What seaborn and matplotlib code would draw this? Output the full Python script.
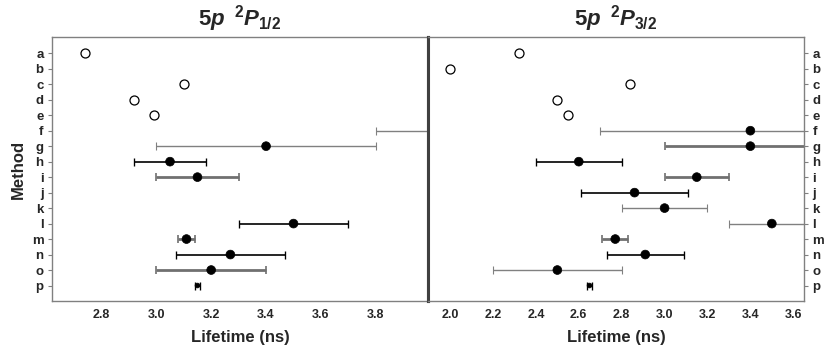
import matplotlib
matplotlib.use("Agg")
import matplotlib.pyplot as plt
import seaborn as sns
import numpy as np
import pandas as pd

sns.set_theme(style="white")
plt.rcParams['font.family'] = ['Liberation Sans', 'DejaVu Sans']
plt.rcParams['font.weight'] = 'bold'
plt.rcParams['mathtext.fontset'] = 'custom'
plt.rcParams['mathtext.rm'] = 'Liberation Sans:bold'
plt.rcParams['mathtext.it'] = 'Liberation Sans:bold:italic'
plt.rcParams['mathtext.bf'] = 'Liberation Sans:bold'

methods = list("abcdefghijklmnop")

# Left panel: 5p 2P1/2
theory_left_methods = ["a", "c", "d", "e"]
theory_left_vals = [2.74, 3.10, 2.92, 2.99]
exp_left_methods = ["f", "g", "h", "i", "l", "m", "n", "o", "p"]
exp_left_vals = [4.40, 3.40, 3.05, 3.15, 3.50, 3.11, 3.27, 3.20, 3.15]
exp_left_errs = [0.60, 0.40, 0.13, 0.15, 0.20, 0.03, 0.20, 0.20, 0.01]
exp_left_style = ["thin", "thin", "black", "thick", "black", "thick", "black", "thick", "black"]

# Right panel: 5p 2P3/2
theory_right_methods = ["a", "b", "c", "d", "e"]
theory_right_vals = [2.32, 2.00, 2.84, 2.50, 2.55]
exp_right_methods = ["f", "g", "h", "i", "j", "k", "l", "m", "n", "o", "p"]
exp_right_vals = [3.40, 3.40, 2.60, 3.15, 2.86, 3.00, 3.50, 2.77, 2.91, 2.50, 2.65]
exp_right_errs = [0.70, 0.40, 0.20, 0.15, 0.25, 0.20, 0.20, 0.06, 0.18, 0.30, 0.01]
exp_right_style = ["thin", "thick", "black", "thick", "black", "thin", "thin", "thick", "black", "thin", "black"]

left_ticks = [2.8, 3.0, 3.2, 3.4, 3.6, 3.8]
right_ticks = [2.0, 2.2, 2.4, 2.6, 2.8, 3.0, 3.2, 3.4, 3.6]

styles = {
    "thin": dict(color="#808080", lw=1.0),
    "thick": dict(color="#707070", lw=2.0),
    "black": dict(color="black", lw=1.2),
}

fig = plt.figure(figsize=(8.31, 3.58), dpi=100)
axL = fig.add_axes([52/831, 57/358, 376/831, 264/358])
axR = fig.add_axes([428/831, 57/358, 376/831, 264/358])

ypos = {m: i for i, m in enumerate(methods)}


def draw(ax, tm, tv, em, ev, ee, es):
    for m, v, e, s in zip(em, ev, ee, es):
        st = styles[s]
        ax.errorbar([v], [ypos[m]], xerr=[e], fmt="none", ecolor=st["color"],
                    elinewidth=st["lw"], capsize=3, capthick=st["lw"] * 0.8 if s != "thick" else 1.2, zorder=2)
    dft = pd.DataFrame({"x": tv, "y": [ypos[m] for m in tm]})
    sns.scatterplot(data=dft, x="x", y="y", ax=ax, marker="o", s=42,
                    facecolor="white", edgecolor="black", linewidth=0.9, zorder=3)
    sizes = [12 if e <= 0.01 else 40 for e in ee]
    dfe = pd.DataFrame({"x": ev, "y": [ypos[m] for m in em], "s": sizes})
    sns.scatterplot(data=dfe, x="x", y="y", ax=ax, color="black", size="s",
                    sizes=(12, 40), legend=False, edgecolor="black", linewidth=0.5, zorder=4)


draw(axL, theory_left_methods, theory_left_vals, exp_left_methods, exp_left_vals, exp_left_errs, exp_left_style)
draw(axR, theory_right_methods, theory_right_vals, exp_right_methods, exp_right_vals, exp_right_errs, exp_right_style)

for ax in (axL, axR):
    ax.set_ylim(16.0, -1.05)
    ax.set_yticks(range(len(methods)))
    ax.set_yticklabels(methods, fontsize=9.5, fontweight="bold")
    ax.grid(False)
    for sp in ax.spines.values():
        sp.set_color("#808080")
        sp.set_linewidth(1.0)
    ax.tick_params(axis="both", which="both", length=3, width=0.8, color="#808080",
                   pad=3, direction="out")
    ax.tick_params(axis="x", labelsize=9)
    ax.set_xlabel("Lifetime (ns)", fontsize=12, fontweight="bold", labelpad=6)

axL.set_xlim(2.62, 3.99)
axL.set_xticks(left_ticks)
axL.set_xticklabels([f"{t:.1f}" for t in left_ticks], fontweight="bold")
axL.set_ylabel("Method", fontsize=12, fontweight="bold", labelpad=4)
axL.yaxis.set_ticks_position("left")
axL.tick_params(axis="y", left=True, right=False)
axL.spines["right"].set_color("#404040")
axL.spines["right"].set_linewidth(2.2)
axL.spines["right"].set_zorder(10)
axL.set_title(r"$5p\ \,^{2}P_{1/2}$", fontsize=16, pad=8)

axR.set_xlim(1.897, 3.65)
axR.set_xticks(right_ticks)
axR.set_xticklabels([f"{t:.1f}" for t in right_ticks], fontweight="bold")
axR.set_ylabel("")
axR.yaxis.tick_right()
axR.tick_params(axis="y", left=False, right=True, labelright=True, labelleft=False)
axR.spines["left"].set_color("#404040")
axR.spines["left"].set_linewidth(2.2)
axR.set_title(r"$5p\ \,^{2}P_{3/2}$", fontsize=16, pad=8)

fig.savefig("out.png", dpi=100)
